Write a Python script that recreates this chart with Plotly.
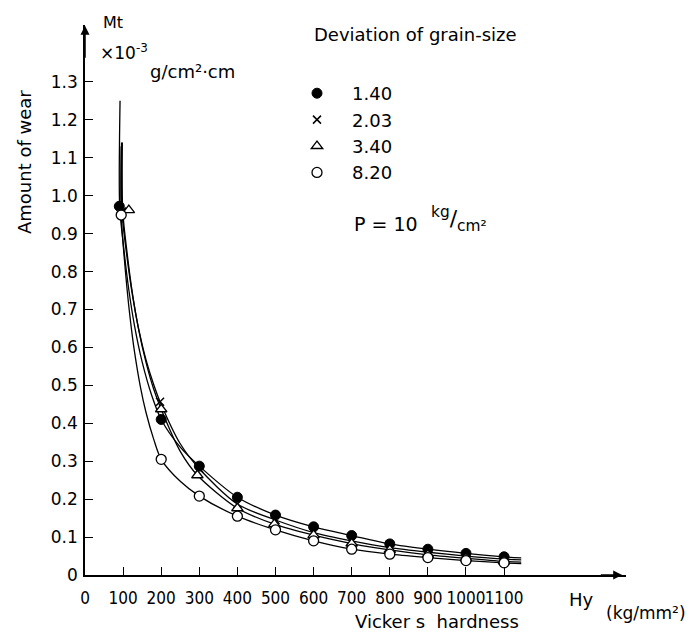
import plotly.graph_objects as go

# ---------------- data ----------------
hardness_140 = [90, 200, 300, 400, 500, 600, 700, 800, 900, 1000, 1100]
wear_140 = [0.972, 0.41, 0.287, 0.205, 0.158, 0.127, 0.104, 0.082, 0.068, 0.057, 0.048]

hardness_203 = [97, 197, 300, 400, 500, 600, 700, 800, 900, 1000, 1100]
wear_203 = [0.958, 0.457, 0.28, 0.187, 0.145, 0.112, 0.090, 0.072, 0.060, 0.050, 0.042]

hardness_340 = [115, 200, 295, 400, 497, 600, 700, 800, 900, 1000, 1100]
wear_340 = [0.962, 0.437, 0.263, 0.176, 0.134, 0.105, 0.083, 0.066, 0.053, 0.044, 0.036]

hardness_820 = [95, 200, 300, 400, 500, 600, 700, 800, 900, 1000, 1100]
wear_820 = [0.949, 0.305, 0.208, 0.155, 0.119, 0.090, 0.068, 0.055, 0.046, 0.038, 0.032]

# hand-drawn fitted curves
curve_140_x = [92, 91, 100, 115, 130, 150, 175, 200, 250, 300, 400, 500, 600, 700, 800, 900, 1000, 1100, 1145]
curve_140_y = [1.25, 0.972, 0.877, 0.752, 0.657, 0.562, 0.474, 0.41, 0.337, 0.287, 0.205, 0.158, 0.127, 0.104, 0.082, 0.068, 0.057, 0.048, 0.045]

curve_203_x = [96, 97, 110, 125, 140, 160, 180, 197, 250, 300, 400, 500, 600, 700, 800, 900, 1000, 1100, 1145]
curve_203_y = [1.14, 0.958, 0.840, 0.735, 0.653, 0.568, 0.503, 0.457, 0.346, 0.28, 0.187, 0.145, 0.112, 0.090, 0.072, 0.060, 0.050, 0.042, 0.040]

curve_340_x = [98, 99, 110, 125, 140, 160, 180, 200, 250, 295, 400, 497, 600, 700, 800, 900, 1000, 1100, 1145]
curve_340_y = [1.14, 0.96, 0.853, 0.739, 0.651, 0.561, 0.491, 0.437, 0.326, 0.263, 0.176, 0.134, 0.105, 0.083, 0.066, 0.053, 0.044, 0.036, 0.034]

curve_820_x = [95, 95, 110, 120, 130, 145, 160, 180, 200, 250, 300, 400, 500, 600, 700, 800, 900, 1000, 1100, 1145]
curve_820_y = [1.13, 0.949, 0.758, 0.664, 0.588, 0.498, 0.429, 0.359, 0.305, 0.247, 0.208, 0.155, 0.119, 0.090, 0.068, 0.055, 0.046, 0.038, 0.032, 0.030]

series_names = ["1.40", "2.03", "3.40", "8.20"]
x_tick_vals = [0, 100, 200, 300, 400, 500, 600, 700, 800, 900, 1000, 1100]
y_tick_vals = [0, 0.1, 0.2, 0.3, 0.4, 0.5, 0.6, 0.7, 0.8, 0.9, 1.0, 1.1, 1.2, 1.3]
y_tick_text = ["0", "0.1", "0.2", "0.3", "0.4", "0.5", "0.6", "0.7", "0.8", "0.9", "1.0", "1.1", "1.2", "1.3"]

# ---------------- figure ----------------
W, H = 694, 633
L, R, T, B = 85, 68, 25, 58
FONT = "DejaVu Sans"
COND = "DejaVu Sans Condensed, Liberation Sans"

fig = go.Figure()

curves = [(curve_140_x, curve_140_y), (curve_203_x, curve_203_y),
          (curve_340_x, curve_340_y), (curve_820_x, curve_820_y)]
for cx, cy in curves:
    fig.add_trace(go.Scatter(x=cx, y=cy, mode="lines", showlegend=False,
                             line=dict(color="black", width=1.3, shape="spline", smoothing=0.8),
                             hoverinfo="skip"))

marker_styles = [
    dict(symbol="circle", size=10, color="black", line=dict(color="black", width=1)),
    dict(symbol="x-thin", size=8, color="black", line=dict(color="black", width=1.5)),
    dict(symbol="triangle-up", size=10, color="white", line=dict(color="black", width=1.3)),
    dict(symbol="circle", size=10, color="white", line=dict(color="black", width=1.3)),
]
pts = [(hardness_140, wear_140), (hardness_203, wear_203),
       (hardness_340, wear_340), (hardness_820, wear_820)]
for (px_, py_), ms, nm in zip(pts, marker_styles, series_names):
    fig.add_trace(go.Scatter(x=px_, y=py_, mode="markers", name=nm, marker=ms))


def pp(px, py):
    return (px - L) / (W - L - R), (H - B - py) / (H - T - B)


annots = []


def txt(s, px, py, size=16, xanchor="center", family=FONT, **kw):
    x, y = pp(px, py)
    annots.append(dict(text=s, x=x, y=y, xref="paper", yref="paper", showarrow=False,
                       xanchor=xanchor, yanchor="middle",
                       font=dict(family=family, size=size, color="black"), **kw))


txt("Mt", 113, 23, 16)
txt("×10<sup>-3</sup>", 124, 52, 17)
txt("g/cm²·cm", 192, 71, 18)
txt("Amount of wear", 24, 162, 18, textangle=-90)
txt("Deviation of grain-size", 415, 34, 18)
txt("P = 10", 386, 224, 19)
txt("<sup>kg</sup>/<sub>cm²</sub>", 459, 219, 22)
txt("Hy", 581, 599, 18)
txt("(kg/mm²)", 646, 613, 17)
txt("Vicker s  hardness", 437, 621, 18)

# axis arrowheads
annots.append(dict(x=1410, y=0, ax=1350, ay=0, xref="x", yref="y", axref="x", ayref="y",
                   text="", showarrow=True, arrowhead=2, arrowsize=1.2, arrowwidth=1.5,
                   arrowcolor="black"))
annots.append(dict(x=0, y=1.448, ax=0, ay=1.36, xref="x", yref="y", axref="x", ayref="y",
                   text="", showarrow=True, arrowhead=2, arrowsize=1.2, arrowwidth=1.5,
                   arrowcolor="black"))

fig.update_layout(
    width=W, height=H,
    margin=dict(l=L, r=R, t=T, b=B),
    paper_bgcolor="white", plot_bgcolor="white",
    font=dict(family=FONT, size=17, color="black"),
    annotations=annots,
    legend=dict(x=pp(282, 0)[0], y=pp(0, 75)[1], xanchor="left", yanchor="top",
                font=dict(family=FONT, size=18), bgcolor="rgba(0,0,0,0)",
                itemwidth=60, tracegroupgap=0),
)
fig.update_xaxes(range=[0, 1420], showgrid=False, zeroline=False,
                 showline=True, linecolor="black", linewidth=1.5,
                 ticks="inside", ticklen=8, tickwidth=1.2, tickcolor="black",
                 tickvals=x_tick_vals, ticktext=[str(v) for v in x_tick_vals],
                 tickangle=0, tickfont=dict(family=COND, size=17), ticklabelstandoff=7)
fig.update_yaxes(range=[0, 1.45], showgrid=False, zeroline=False,
                 showline=True, linecolor="black", linewidth=1.5,
                 ticks="inside", ticklen=8, tickwidth=1.2, tickcolor="black",
                 tickvals=y_tick_vals, ticktext=y_tick_text,
                 tickfont=dict(family=FONT, size=17), ticklabelstandoff=2)

fig.write_html("out.html")
